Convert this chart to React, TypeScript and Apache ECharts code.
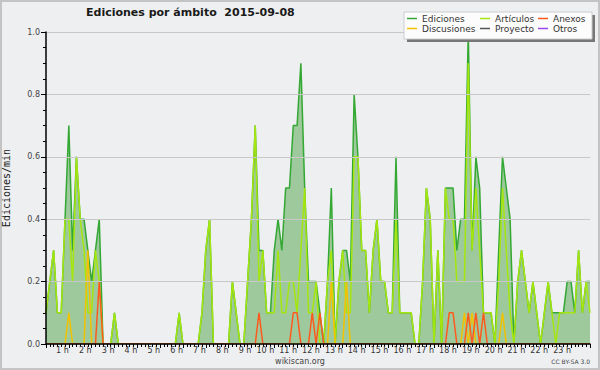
import React, { useEffect, useRef } from "react";
import * as echarts from "echarts";

const TITLE = "Ediciones por ámbito  2015-09-08";
const Y_NAME = "Ediciones/min";
const FOOTER = "wikiscan.org";
const LICENSE = "CC BY-SA 3.0";

// 10-minute bins, index 0 = 00:00 ... 143 = 23:50 (edits per minute)
const EDICIONES = [
  0.1, 0.2, 0.3, 0.1, 0.1, 0.4, 0.7, 0.3, 0.6, 0.4, 0.4, 0.3,
  0.2, 0.3, 0.4, 0, 0, 0, 0.1, 0, 0, 0, 0, 0,
  0, 0, 0, 0, 0, 0, 0, 0, 0, 0, 0, 0.1,
  0, 0, 0, 0, 0, 0.1, 0.3, 0.4, 0, 0, 0, 0,
  0, 0.2, 0.1, 0, 0, 0.2, 0.4, 0.7, 0.3, 0.3, 0.1, 0.1,
  0.3, 0.4, 0.3, 0.5, 0.5, 0.7, 0.7, 0.9, 0.5, 0.2, 0.2, 0.2,
  0.1, 0, 0.2, 0.5, 0, 0.2, 0.3, 0.3, 0.2, 0.8, 0.6, 0.3,
  0.3, 0.1, 0.3, 0.4, 0.2, 0.2, 0.1, 0.1, 0.6, 0.1, 0.1, 0.1,
  0.1, 0, 0, 0.2, 0.5, 0.4, 0, 0.3, 0, 0.5, 0.5, 0.5,
  0.3, 0.4, 0.4, 1.0, 0.3, 0.6, 0.5, 0.1, 0.1, 0.1, 0, 0.3,
  0.6, 0.5, 0.4, 0, 0.2, 0.3, 0.2, 0.1, 0.2, 0.1, 0, 0.1,
  0.2, 0.1, 0.1, 0.1, 0.1, 0.2, 0.2, 0.1, 0.3, 0.1, 0.2, 0.2,
];
const ARTICULOS = [
  0.1, 0.2, 0.3, 0.1, 0.1, 0.4, 0.4, 0.2, 0.6, 0.4, 0.3, 0.1,
  0.1, 0.3, 0.2, 0, 0, 0, 0.1, 0, 0, 0, 0, 0,
  0, 0, 0, 0, 0, 0, 0, 0, 0, 0, 0, 0.1,
  0, 0, 0, 0, 0, 0.1, 0.3, 0.4, 0, 0, 0, 0,
  0, 0.2, 0.1, 0, 0, 0.2, 0.4, 0.7, 0.2, 0.3, 0.1, 0.1,
  0.1, 0.3, 0.1, 0.1, 0.2, 0.2, 0.1, 0.3, 0.5, 0.1, 0.1, 0.2,
  0, 0, 0.2, 0.3, 0, 0.2, 0.3, 0.1, 0.1, 0.6, 0.6, 0.3,
  0.3, 0.1, 0.3, 0.4, 0.2, 0.2, 0.1, 0.1, 0.4, 0.1, 0.1, 0.1,
  0.1, 0, 0, 0.2, 0.5, 0.4, 0, 0.3, 0, 0.5, 0.4, 0.4,
  0.2, 0.2, 0.2, 0.9, 0.3, 0.5, 0.3, 0.1, 0.1, 0.1, 0, 0.2,
  0.5, 0.3, 0.1, 0, 0.2, 0.3, 0.2, 0.1, 0.2, 0.1, 0, 0.1,
  0.2, 0.1, 0, 0.1, 0.1, 0.1, 0.1, 0.1, 0.3, 0.1, 0.2, 0.1,
];
const ANEXOS = [
  0, 0, 0, 0, 0, 0, 0, 0, 0, 0, 0, 0,
  0, 0, 0.2, 0, 0, 0, 0, 0, 0, 0, 0, 0,
  0, 0, 0, 0, 0, 0, 0, 0, 0, 0, 0, 0,
  0, 0, 0, 0, 0, 0, 0, 0, 0, 0, 0, 0,
  0, 0, 0, 0, 0, 0, 0, 0, 0.1, 0, 0, 0,
  0, 0, 0, 0, 0, 0.1, 0.1, 0, 0, 0, 0.1, 0,
  0.1, 0, 0, 0, 0, 0, 0, 0, 0, 0, 0, 0,
  0, 0, 0, 0, 0, 0, 0, 0, 0, 0, 0, 0,
  0, 0, 0, 0, 0, 0, 0, 0, 0, 0, 0.1, 0.1,
  0, 0, 0, 0.1, 0, 0.1, 0, 0.1, 0, 0, 0, 0,
  0, 0, 0, 0, 0, 0, 0, 0, 0, 0, 0, 0,
  0, 0, 0, 0, 0, 0, 0, 0, 0, 0, 0, 0,
];
const DISCUSIONES = [
  0, 0, 0, 0, 0, 0, 0.1, 0, 0, 0, 0, 0.3,
  0, 0, 0, 0, 0, 0, 0, 0, 0, 0, 0, 0,
  0, 0, 0, 0, 0, 0, 0, 0, 0, 0, 0, 0,
  0, 0, 0, 0, 0, 0, 0, 0, 0, 0, 0, 0,
  0, 0, 0, 0, 0, 0, 0, 0, 0, 0, 0, 0,
  0, 0, 0, 0, 0, 0, 0, 0, 0, 0, 0, 0,
  0, 0, 0, 0.2, 0, 0, 0, 0.2, 0, 0, 0, 0,
  0, 0, 0, 0, 0, 0, 0, 0, 0, 0, 0, 0,
  0, 0, 0, 0, 0, 0, 0, 0, 0, 0, 0, 0,
  0, 0, 0.1, 0, 0.1, 0, 0, 0, 0, 0, 0, 0,
  0.1, 0, 0, 0, 0, 0, 0, 0, 0, 0, 0, 0,
  0, 0, 0, 0, 0, 0, 0, 0, 0, 0, 0, 0,
];
const PROYECTO = new Array(144).fill(0);
const OTROS = new Array(144).fill(0);

const NAMES = ["Ediciones", "Artículos", "Anexos", "Discusiones", "Proyecto", "Otros"];
const COLORS = ["#33a833", "#a6e60f", "#ff5a1e", "#f2c200", "#555555", "#9a48f0"];

const FONT = "DejaVu Sans";

export default function App() {
  const ref = useRef<HTMLDivElement>(null);
  useEffect(() => {
    document.body.style.margin = "0";
    const chart = echarts.init(ref.current!, null, { renderer: "svg" });
    const pts = (arr: number[]) => arr.map((v, i) => [i, v]);
    const line = (name: string, data: number[], color: string, z: number, extra: any = {}) => ({
      name,
      type: "line",
      data: pts(data),
      symbol: "none",
      z,
      lineStyle: { color, width: 1.5 },
      itemStyle: { color },
      ...extra,
    });
    const legendPos: [number, number][] = [
      [407, 14], [480, 14], [538, 14],
      [407, 24], [480, 24], [538, 24],
    ];
    chart.setOption({
      animation: false,
      backgroundColor: "#eeeff1",
      title: {
        text: TITLE,
        left: 86,
        top: 7,
        padding: 0,
        textStyle: { fontFamily: FONT, fontSize: 11, fontWeight: "bold", color: "#1a1a1a" },
      },
      legend: NAMES.map((n, k) => ({
        data: [n],
        left: legendPos[k][0],
        top: legendPos[k][1],
        padding: 0,
        z: 50,
        icon: "rect",
        itemWidth: 10,
        itemHeight: 1.5,
        selectedMode: false,
        textStyle: { fontFamily: FONT, fontSize: 9, color: "#333" },
      })),
      grid: { left: 46, right: 10, top: 32, bottom: 26, outerBoundsMode: "none", containLabel: false },
      xAxis: {
        type: "value",
        min: 0,
        max: 143,
        interval: 6,
        z: 10,
        axisLine: { lineStyle: { color: "#000", width: 1.5 } },
        axisTick: { length: 4, lineStyle: { color: "#000" } },
        minorTick: { show: true, splitNumber: 6, length: 3, lineStyle: { color: "#000" } },
        splitLine: { show: false },
        axisLabel: {
          showMinLabel: false,
          showMaxLabel: false,
          align: "right",
          margin: 2,
          fontFamily: FONT,
          fontSize: 8,
          color: "#333",
          formatter: (v: number) => (v === 0 ? "" : `${v / 6} h`),
        },
      },
      yAxis: {
        type: "value",
        min: 0,
        max: 1,
        interval: 0.2,
        z: 10,
        name: Y_NAME,
        nameLocation: "middle",
        nameRotate: 90,
        nameGap: 35,
        nameTextStyle: { fontFamily: "DejaVu Sans Mono", fontSize: 10, color: "#1a1a1a" },
        axisLine: { show: true, lineStyle: { color: "#000", width: 1.5 } },
        axisTick: { show: true, length: 5, lineStyle: { color: "#000" } },
        minorTick: { show: true, splitNumber: 4, length: 3, lineStyle: { color: "#000" } },
        splitLine: { lineStyle: { color: "#c8c8c8", width: 1 } },
        axisLabel: {
          margin: 6,
          fontFamily: FONT,
          fontSize: 8,
          color: "#444",
          formatter: (v: number) => v.toFixed(1),
        },
      },
      series: [
        line(NAMES[0], EDICIONES, COLORS[0], 2, {
          areaStyle: { color: "#9ec99c", opacity: 1 },
        }),
        line(NAMES[1], ARTICULOS, COLORS[1], 3),
        line(NAMES[2], ANEXOS, COLORS[2], 5),
        line(NAMES[3], DISCUSIONES, COLORS[3], 4),
        line(NAMES[4], PROYECTO, COLORS[4], 1),
        line(NAMES[5], OTROS, COLORS[5], 1),
      ],
      graphic: [
        {
          type: "rect",
          z: 0,
          silent: true,
          shape: { x: 1, y: 1, width: 598, height: 368 },
          style: { fill: "none", stroke: "#c4c4c4", lineWidth: 2 },
        },
        {
          type: "rect",
          z: 20,
          silent: true,
          shape: { x: 407, y: 15, width: 188, height: 27 },
          style: { fill: "#777" },
        },
        {
          type: "rect",
          z: 21,
          silent: true,
          shape: { x: 404, y: 12, width: 188, height: 27 },
          style: { fill: "#fcfcfc", stroke: "#cccccc", lineWidth: 1 },
        },
        {
          type: "text",
          z: 30,
          x: 300,
          y: 361,
          style: { text: FOOTER, fontFamily: FONT, fontSize: 8, fill: "#444", align: "center", verticalAlign: "middle" },
        },
        {
          type: "text",
          z: 30,
          x: 590,
          y: 361,
          style: { text: LICENSE, fontFamily: FONT, fontSize: 6, fill: "#444", align: "right", verticalAlign: "middle" },
        },
      ],
    });
    return () => chart.dispose();
  }, []);
  return <div ref={ref} style={{ width: 600, height: 370 }} />;
}
